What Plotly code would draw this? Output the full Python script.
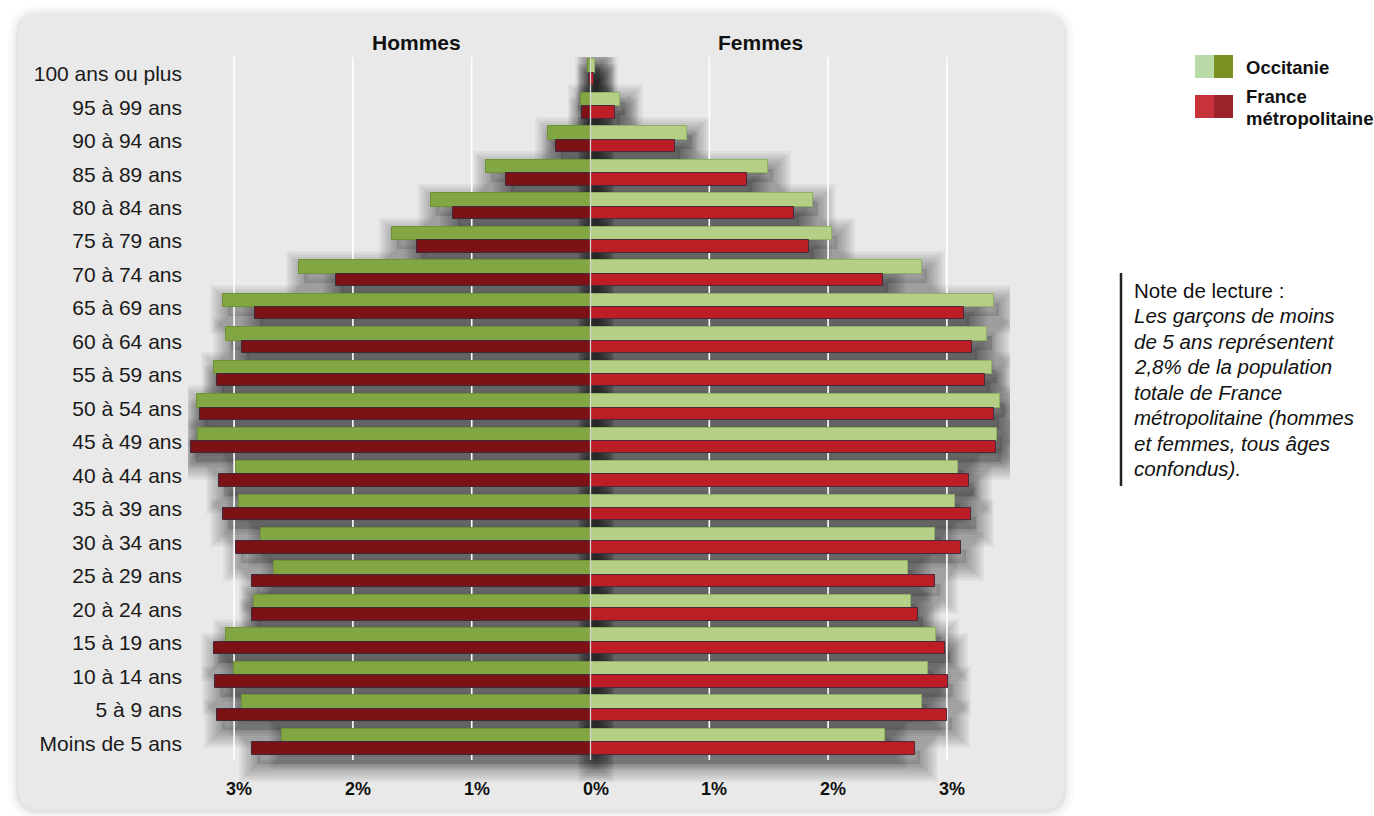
import plotly.graph_objects as go

# ---------------- data ----------------
ages = ["Moins de 5 ans", "5 à 9 ans", "10 à 14 ans", "15 à 19 ans", "20 à 24 ans",
        "25 à 29 ans", "30 à 34 ans", "35 à 39 ans", "40 à 44 ans", "45 à 49 ans",
        "50 à 54 ans", "55 à 59 ans", "60 à 64 ans", "65 à 69 ans", "70 à 74 ans",
        "75 à 79 ans", "80 à 84 ans", "85 à 89 ans", "90 à 94 ans", "95 à 99 ans",
        "100 ans ou plus"]

occ_hommes = [2.60, 2.93, 3.00, 3.07, 2.83, 2.66, 2.77, 2.96, 2.98, 3.30, 3.31,
              3.17, 3.07, 3.09, 2.45, 1.67, 1.34, 0.88, 0.36, 0.08, 0.02]
fr_hommes = [2.85, 3.14, 3.16, 3.17, 2.85, 2.85, 2.98, 3.09, 3.13, 3.36, 3.29,
             3.14, 2.93, 2.82, 2.14, 1.46, 1.16, 0.71, 0.29, 0.07, 0.015]
occ_femmes = [2.48, 2.79, 2.84, 2.91, 2.70, 2.67, 2.90, 3.07, 3.09, 3.42, 3.45,
              3.38, 3.34, 3.40, 2.79, 2.03, 1.87, 1.49, 0.81, 0.245, 0.04]
fr_femmes = [2.73, 3.00, 3.01, 2.98, 2.76, 2.90, 3.12, 3.20, 3.19, 3.41, 3.40,
             3.32, 3.21, 3.14, 2.46, 1.84, 1.71, 1.32, 0.71, 0.205, 0.03]

tick_vals = [-3, -2, -1, 0, 1, 2, 3]
tick_text = ["3%", "2%", "1%", "0%", "1%", "2%", "3%"]

note_title = "Note de lecture :"
note_lines = ["Les garçons de moins", "de 5 ans représentent", "2,8% de la population",
              "totale de France", "métropolitaine (hommes", "et femmes, tous âges",
              "confondus)."]

# ---------------- layout helpers ----------------
W, H = 1374, 816
PL, PR, PT = 188, 1010, 57
GRID_BOTTOM = 760          # where the category band ends
PB = 800                   # plot area bottom (room for the bar shadows)
ROW = (GRID_BOTTOM - PT) / len(ages)
ZERO_PX, PX_PER_PCT = 590.5, 118.8
FONT = "Liberation Sans, Arial, Helvetica, sans-serif"

Y_RANGE = [-0.5 - (PB - GRID_BOTTOM) / ROW, len(ages) - 0.5]
X_RANGE = [-(ZERO_PX - PL) / PX_PER_PCT, (PR - ZERO_PX) / PX_PER_PCT]
SHADOW_DX = 5 / PX_PER_PCT      # shadow shifted a few px to the right
SHADOW_DY = 9 / ROW             # and downwards


def px(x):
    return (x - PL) / (PR - PL)


def py(y):
    return (PB - y) / (PB - PT)


def rrect(x0, y0, x1, y1, r):
    pts = [("M", x0 + r, y0), ("L", x1 - r, y0), ("Q", x1, y0, x1, y0 + r),
           ("L", x1, y1 - r), ("Q", x1, y1, x1 - r, y1), ("L", x0 + r, y1),
           ("Q", x0, y1, x0, y1 - r), ("L", x0, y0 + r), ("Q", x0, y0, x0 + r, y0)]
    s = ""
    for p in pts:
        coords = p[1:]
        parts = [f"{px(coords[i]):.5f},{py(coords[i+1]):.5f}" for i in range(0, len(coords), 2)]
        s += p[0] + " ".join(parts) + " "
    return s + "Z"


fig = go.Figure()

series = [
    ("Occitanie - Hommes", occ_hommes, -1, 0.03, 0.40, "#82a642", "#6f9238"),
    ("France - Hommes", fr_hommes, -1, -0.34, 0.37, "#7d1216", "#3e2a3c"),
    ("Occitanie - Femmes", occ_femmes, 1, 0.03, 0.40, "#b5cf87", "#8fb162"),
    ("France - Femmes", fr_femmes, 1, -0.34, 0.37, "#bd1d25", "#4a2a3a"),
]

# ---------- soft drop shadows: concentric translucent outlines ----------
shadow_widths = [36, 32, 28, 24, 20, 16, 12, 8, 4]
for _, vals, sign, off, wid, _, _ in series:
    for lw in shadow_widths:
        fig.add_trace(go.Bar(
            y=ages, x=[sign * v for v in vals], base=SHADOW_DX, orientation="h",
            offset=off - SHADOW_DY, width=wid,
            marker=dict(color="rgba(0,0,0,0.01)",
                        line=dict(color="rgba(0,0,0,0.04)", width=lw)),
            hoverinfo="skip", showlegend=False, xaxis="x", yaxis="y"))

# ---------- vertical gridlines (overlay drawn above shadows) ----------
gx, gy = [], []
for v in tick_vals:
    if v == 0:
        continue
    gx += [v, v, None]
    gy += [-0.5, len(ages) - 0.5, None]
fig.add_trace(go.Scatter(x=gx, y=gy, mode="lines", line=dict(color="#ffffff", width=1.6),
                         hoverinfo="skip", showlegend=False, xaxis="x", yaxis="y2"))

# ---------- bars ----------
for name, vals, sign, off, wid, col, lcol in series:
    fig.add_trace(go.Bar(
        name=name, y=ages, x=[sign * v for v in vals], orientation="h",
        offset=off, width=wid,
        marker=dict(color=col, line=dict(color=lcol, width=1)),
        customdata=vals,
        hovertemplate="%{y} : %{customdata:.2f}%<extra>" + name + "</extra>",
        showlegend=False, xaxis="x", yaxis="y3"))

# ---------- zero line above bars ----------
fig.add_trace(go.Scatter(x=[0, 0], y=[-0.5, len(ages) - 0.5], mode="lines",
                         line=dict(color="#d4d4d4", width=1.3),
                         hoverinfo="skip", showlegend=False, xaxis="x", yaxis="y4"))

shapes = []
# panel shadow + panel
for grow, a in [(10, 0.015), (7, 0.02), (4, 0.03), (2, 0.04)]:
    shapes.append(dict(type="path", xref="paper", yref="paper", layer="below",
                       path=rrect(18 - grow, 13 - grow + 2, 1064 + grow, 809 + grow + 2, 22 + grow),
                       fillcolor=f"rgba(0,0,0,{a})", line=dict(width=0)))
shapes.append(dict(type="path", xref="paper", yref="paper", layer="below",
                   path=rrect(18, 13, 1064, 809, 22),
                   fillcolor="#e9e9e9", line=dict(width=0)))

# legend swatches
legend_items = [("Occitanie", "#b8dba8", "#7a9124", 55),
                ("France", "#c8323a", "#9b2228", 95)]
for _, c1, c2, top in legend_items:
    shapes.append(dict(type="rect", xref="paper", yref="paper",
                       x0=px(1195), x1=px(1214), y0=py(top), y1=py(top + 23),
                       fillcolor=c1, line=dict(width=0)))
    shapes.append(dict(type="rect", xref="paper", yref="paper",
                       x0=px(1214), x1=px(1233), y0=py(top), y1=py(top + 23),
                       fillcolor=c2, line=dict(width=0)))

# note vertical bar
shapes.append(dict(type="line", xref="paper", yref="paper",
                   x0=px(1121), x1=px(1121), y0=py(273), y1=py(486),
                   line=dict(color="#222222", width=2.5)))

annotations = []


def ann(text, x, y, size, bold=False, italic=False, xanchor="left", color="#111111"):
    f = dict(family=FONT, size=size, color=color)
    if bold:
        f["weight"] = "bold"
    if italic:
        f["style"] = "italic"
    annotations.append(dict(text=text, x=px(x), y=py(y), xref="paper", yref="paper",
                            xanchor=xanchor, yanchor="middle", showarrow=False, font=f))


ann("Hommes", 416, 42, 21, bold=True, xanchor="center")
ann("Femmes", 760, 42, 21, bold=True, xanchor="center")
ann("Occitanie", 1244, 67, 18.5, bold=True)
ann("France", 1244, 96, 18.5, bold=True)
ann("métropolitaine", 1244, 119, 18.5, bold=True)
ann(note_title, 1132, 290, 20.5)
for i, line in enumerate(note_lines):
    ann(line, 1132, 315.5 + i * 25.5, 20.5, italic=True)

# x tick labels (placed through the x axis scale)
for v, t in zip(tick_vals, tick_text):
    annotations.append(dict(text=t, x=v, xref="x", y=py(789), yref="paper",
                            xanchor="center", yanchor="middle", xshift=5, showarrow=False,
                            font=dict(family=FONT, size=18, color="#111111", weight="bold")))

hidden_y = dict(overlaying="y", visible=False, range=Y_RANGE, fixedrange=True)

fig.update_layout(
    width=W, height=H, autosize=False,
    margin=dict(l=PL, r=W - PR, t=PT, b=H - PB, pad=0),
    paper_bgcolor="white", plot_bgcolor="rgba(0,0,0,0)",
    barmode="overlay", bargap=0,
    shapes=shapes, annotations=annotations,
    font=dict(family=FONT, color="#1a1a1a"),
    xaxis=dict(range=X_RANGE, showgrid=False, zeroline=False, showline=False,
               showticklabels=False, ticks="", fixedrange=True),
    yaxis=dict(type="category", categoryorder="array", categoryarray=ages,
               range=Y_RANGE, showgrid=False, zeroline=False, showline=False,
               ticks="", ticklabelstandoff=5,
               tickfont=dict(family=FONT, size=21, color="#1a1a1a"),
               fixedrange=True),
    yaxis2=dict(type="linear", **hidden_y),
    yaxis3=dict(type="category", categoryorder="array", categoryarray=ages, **hidden_y),
    yaxis4=dict(type="linear", **hidden_y),
)

fig.write_html("out.html")
